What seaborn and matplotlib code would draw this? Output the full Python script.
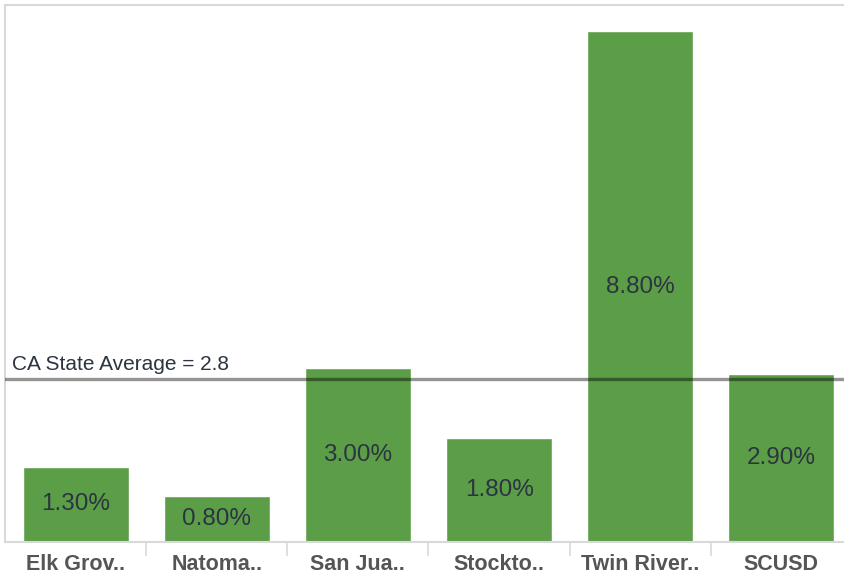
import matplotlib
matplotlib.use("Agg")
import matplotlib.pyplot as plt
import seaborn as sns
import pandas as pd
import numpy as np

districts = ["Elk Grov..", "Natoma..", "San Jua..", "Stockto..", "Twin River..", "SCUSD"]
rates = [1.3, 0.8, 3.0, 1.8, 8.8, 2.9]
state_avg = 2.8

df = pd.DataFrame({"district": districts, "rate": rates})

sns.set_style("white")
plt.rcParams["font.family"] = ["Liberation Sans", "DejaVu Sans"]

fig = plt.figure(figsize=(8.44, 5.77), dpi=100)
# plot area runs a bit past the right edge, like the original view
ax = fig.add_axes([5 / 844, 35 / 577, 847 / 844, 537 / 577])

sns.barplot(data=df, x="district", y="rate", color="#5c9e47", width=0.75,
            saturation=1, ax=ax)

# value labels in the middle of each bar
for i, v in enumerate(rates):
    ax.text(i, v / 2, f"{v:.2f}%", ha="center", va="center",
            fontsize=17.5, color="#2b3440")

# reference line
ax.axhline(state_avg, color="black", alpha=0.42, lw=2.4, zorder=5)
ax.text(-0.45, state_avg + 0.1, f"CA State Average = {state_avg}",
        ha="left", va="bottom", fontsize=15, color="#2b3440")

ax.set_xlim(-0.5, len(districts) - 0.5)
ax.set_ylim(0, 9.25)
ax.set_xlabel("")
ax.set_ylabel("")
ax.set_yticks([])

ax.tick_params(axis="x", which="major", length=0, pad=9, labelsize=15.5,
               labelcolor="#555555")
for lbl in ax.get_xticklabels():
    lbl.set_fontweight("bold")
ax.set_xticks(np.arange(len(districts) - 1) + 0.5, minor=True)
ax.tick_params(axis="x", which="minor", bottom=True, length=10,
               color="#d9d9d9", width=1.2)

for side in ["top", "left", "bottom"]:
    ax.spines[side].set_color("#d9d9d9")
    ax.spines[side].set_linewidth(1.5)
ax.spines["right"].set_visible(False)

fig.savefig("out.png", dpi=100)
